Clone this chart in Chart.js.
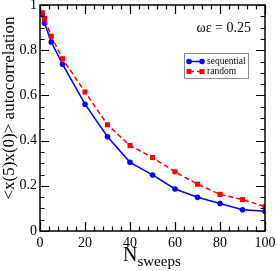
<!DOCTYPE html>
<html lang="en">
<head>
<meta charset="UTF-8">
<title>autocorrelation vs sweeps</title>
<style>
    html, body { margin: 0; padding: 0; background: #fff; }
    .chart-container { position: relative; width: 277px; height: 271px; }
</style>
</head>
<body>
<div class="chart-container">
    <canvas id="myChart" width="277" height="271"></canvas>
</div>

<script src="https://cdn.jsdelivr.net/npm/chart.js@4.4.0/dist/chart.umd.min.js"></script>
<script>
    // data
    const sweeps = [1, 2, 5, 10, 20, 30, 40, 50, 60, 70, 80, 90, 100];
    const sequential = [0.958, 0.92, 0.836, 0.738, 0.561, 0.417, 0.304, 0.248, 0.186, 0.149, 0.122, 0.094, 0.087];
    const random = [0.966, 0.94, 0.862, 0.762, 0.615, 0.470, 0.378, 0.325, 0.262, 0.207, 0.162, 0.139, 0.108];
    const xTickLabels = ['0', '20', '40', '60', '80', '100'];
    const yTickLabels = ['0', '0.2', '0.4', '0.6', '0.8', '1'];

    const serif = '"Liberation Serif", "DejaVu Serif", serif';

    // frame, inward ticks on all four sides, titles, legend
    const decorations = {
        id: 'decorations',
        afterDraw(chart) {
            const ctx = chart.ctx;
            const a = chart.chartArea;
            const xs = chart.scales.x, ys = chart.scales.y;
            ctx.save();
            ctx.strokeStyle = '#000';
            ctx.lineWidth = 1.5;
            ctx.strokeRect(a.left, a.top, a.right - a.left, a.bottom - a.top);

            ctx.lineWidth = 1.2;
            ctx.beginPath();
            for (let i = 0; i <= 25; i++) {
                const v = i * 4;
                const len = (v % 20 === 0) ? 9 : 4.5;
                const px = Math.round(xs.getPixelForValue(v)) + 0.5;
                ctx.moveTo(px, a.bottom); ctx.lineTo(px, a.bottom - len);
                ctx.moveTo(px, a.top); ctx.lineTo(px, a.top + len);
            }
            for (let i = 0; i <= 20; i++) {
                const v = i * 0.05;
                const len = (i % 4 === 0) ? 9 : 4.5;
                const py = Math.round(ys.getPixelForValue(v)) + 0.5;
                ctx.moveTo(a.left, py); ctx.lineTo(a.left + len, py);
                ctx.moveTo(a.right, py); ctx.lineTo(a.right - len, py);
            }
            ctx.stroke();

            // y title
            ctx.fillStyle = '#000';
            ctx.save();
            ctx.translate(14, 108);
            ctx.rotate(-Math.PI / 2);
            ctx.font = '17px ' + serif;
            ctx.textAlign = 'center';
            ctx.textBaseline = 'alphabetic';
            ctx.fillText('<x(5)x(0)> autocorrelation', 0, 0);
            ctx.restore();

            // x title with subscript
            ctx.textAlign = 'left';
            ctx.textBaseline = 'alphabetic';
            ctx.font = '20px ' + serif;
            ctx.fillText('N', 123, 261);
            const nW = ctx.measureText('N').width;
            ctx.font = '15px ' + serif;
            ctx.fillText('sweeps', 123 + nW, 266);

            // annotation
            ctx.font = '14px ' + serif;
            ctx.textAlign = 'right';
            ctx.fillText('\u03c9\u03b5 = 0.25', 251, 32);

            // legend
            ctx.fillStyle = '#fff';
            ctx.fillRect(184, 53, 64, 25);
            ctx.strokeStyle = '#888';
            ctx.lineWidth = 1;
            ctx.strokeRect(184.5, 53.5, 64, 25);
            const items = [chart.data.datasets[1], chart.data.datasets[0]];
            items.forEach((ds, i) => {
                const y = 61.5 + i * 10;
                ctx.strokeStyle = ds.borderColor;
                ctx.lineWidth = 1.5;
                ctx.setLineDash(ds.borderDash || []);
                ctx.beginPath();
                ctx.moveTo(189, y); ctx.lineTo(202, y);
                ctx.stroke();
                ctx.setLineDash([]);
                ctx.fillStyle = ds.pointBackgroundColor;
                [189, 202].forEach(px => {
                    if (ds.pointStyle === 'rect') {
                        ctx.fillRect(px - 2.5, y - 2.5, 5, 5);
                    } else {
                        ctx.beginPath();
                        ctx.arc(px, y, 2.8, 0, Math.PI * 2);
                        ctx.fill();
                    }
                });
                ctx.fillStyle = '#000';
                ctx.font = '9.5px ' + serif;
                ctx.textAlign = 'left';
                ctx.textBaseline = 'middle';
                ctx.fillText(ds.label, 207, y);
            });
            ctx.restore();
        }
    };

    const ctx = document.getElementById('myChart').getContext('2d');
    const myChart = new Chart(ctx, {
        type: 'line',
        data: {
            datasets: [{
                label: 'random',
                data: sweeps.map((x, i) => ({ x: x, y: random[i] })),
                borderColor: '#ff0000',
                backgroundColor: '#ff0000',
                pointBackgroundColor: '#ff0000',
                pointBorderColor: '#ff0000',
                borderWidth: 1.5,
                borderDash: [5, 3],
                pointStyle: 'rect',
                pointRadius: 3.6,
                pointBorderWidth: 0,
                fill: false,
                order: 0
            }, {
                label: 'sequential',
                data: sweeps.map((x, i) => ({ x: x, y: sequential[i] })),
                borderColor: '#0000ff',
                backgroundColor: '#0000ff',
                pointBackgroundColor: '#0000ff',
                pointBorderColor: '#0000ff',
                borderWidth: 1.5,
                pointStyle: 'circle',
                pointRadius: 2.8,
                pointBorderWidth: 0,
                fill: false,
                order: 1
            }]
        },
        options: {
            responsive: false,
            animation: false,
            events: [],
            layout: { padding: { left: 0, right: 12, top: 5, bottom: 0 } },
            scales: {
                x: {
                    type: 'linear',
                    min: 0,
                    max: 100,
                    grid: { display: false, drawTicks: false },
                    border: { display: false },
                    ticks: {
                        stepSize: 20,
                        padding: 4,
                        color: '#000',
                        maxRotation: 0,
                        font: { family: serif, size: 14 },
                        callback: (v, i) => xTickLabels[i]
                    },
                    afterFit(scale) {
                        scale.height = 40;
                        scale.paddingLeft = 0;
                        scale.paddingRight = 0;
                    }
                },
                y: {
                    type: 'linear',
                    min: 0,
                    max: 1,
                    grid: { display: false, drawTicks: false },
                    border: { display: false },
                    ticks: {
                        stepSize: 0.2,
                        padding: 3,
                        color: '#000',
                        font: { family: serif, size: 14 },
                        callback: (v, i) => yTickLabels[i]
                    },
                    afterFit(scale) {
                        scale.width = 40;
                        scale.paddingTop = 0;
                        scale.paddingBottom = 0;
                    }
                }
            },
            plugins: {
                legend: { display: false },
                tooltip: { enabled: false }
            }
        },
        plugins: [decorations]
    });
</script>
</body>
</html>
